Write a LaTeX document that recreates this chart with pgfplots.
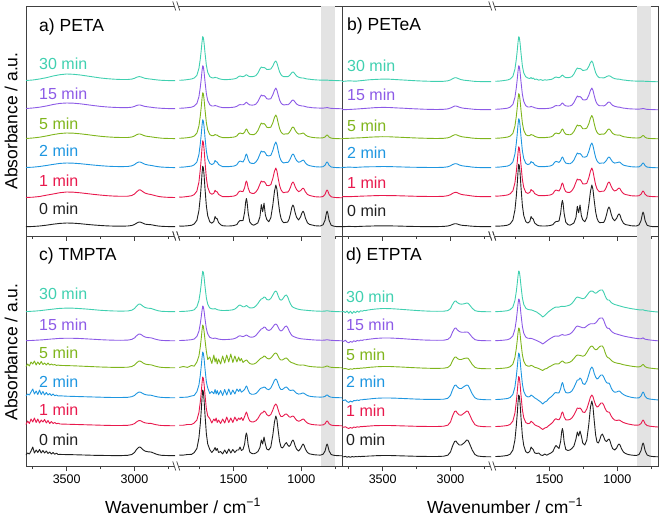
\documentclass[border=0pt]{standalone}
\usepackage{pgfplots}
\pgfplotsset{compat=1.18}
\usepackage{pgfplotstable}
\usepackage{fontspec}
\setmainfont{Liberation Sans}
\setsansfont{Liberation Sans}

\definecolor{c0}{HTML}{202020}
\definecolor{c1}{HTML}{E8194D}
\definecolor{c2}{HTML}{1E96E0}
\definecolor{c5}{HTML}{7FB51C}
\definecolor{c15}{HTML}{8C5AE6}
\definecolor{c30}{HTML}{40D0B0}
\definecolor{frame}{HTML}{404040}

% ---------------- Panel a (PETA) ----------------
\pgfplotstableread{
w t0 t1 t2 t5 t15 t30
3800 0.3 0.5 0.5 0.5 0.5 0.5
3750 0.5 0.8 0.8 1 1 1
3700 1 1.5 1.5 1.8 1.8 2
3650 1.8 2.8 2.5 3 3 3.3
3600 2.8 4 3.6 4.4 4.5 5
3550 3.6 5.3 4.6 5.5 5.6 6.3
3500 4 6 5 6 6 7
3450 3.8 5.8 4.8 5.8 5.8 6.7
3400 3.3 5.2 4.3 5.2 5.2 6
3350 2.6 4.4 3.6 4.4 4.3 5
3300 2 3.6 2.9 3.5 3.4 4
3250 1.5 2.9 2.3 2.7 2.6 3
3200 1.1 2.3 1.8 2.1 2 2.3
3150 0.9 1.9 1.5 1.7 1.6 1.8
3100 0.8 1.7 1.4 1.5 1.4 1.5
3050 1 1.8 1.5 1.5 1.4 1.5
3020 1.5 2.5 2.2 2 1.8 1.9
3000 2.5 4 3.4 3 2.6 2.7
2985 3.8 6 5 4.2 3.5 3.7
2970 4.8 7.8 5.9 5 4 4.3
2960 5 8.2 6 5 4 4.3
2950 4.6 7.5 5.6 4.6 3.7 4
2935 3.6 6 4.5 3.7 3 3.2
2920 2.8 4.8 3.6 3 2.5 2.6
2900 2.5 4 3 2.5 2.1 2.2
2880 2.3 3.5 2.6 2.2 1.8 1.9
2870 2.1 3.2 2.4 2 1.6 1.7
2860 1.8 2.8 2.1 1.8 1.4 1.5
2840 1.3 2.1 1.6 1.4 1.1 1.2
2820 0.9 1.5 1.2 1.1 0.9 0.9
2800 0.7 1.1 0.9 0.8 0.7 0.7
2770 0.5 0.8 0.7 0.6 0.5 0.5
2740 0.4 0.6 0.5 0.5 0.4 0.4
2700 0.3 0.5 0.4 0.4 0.3 0.3
}\aL
\pgfplotstableread{
w t0 t1 t2 t5 t15 t30
1900 .8 .8 .7 .7 .7 .7
1870 .9 1 .9 .9 .9 .9
1840 1.2 1.5 1.4 1.3 1.3 1.4
1810 1.7 2.1 1.9 1.9 1.8 2
1790 3 3.4 3.1 3 2.9 3
1770 6.7 6.9 6 5.8 5.5 5.7
1755 16.4 15.9 13.5 13 12.2 12.6
1745 29.6 28.2 23.9 22.9 21.5 22
1738 41.6 39.4 33.3 31.9 29.9 30.6
1732 53.6 50.6 42.7 40.9 38.3 39.2
1727 60.8 57.3 48.3 46.3 43.3 44.4
1722 59 55.6 46.9 45 42 43.1
1717 52 48.9 41.3 39.6 37 38
1710 38 36 30.4 29.2 27.3 28.1
1700 20.8 19.8 16.8 16.2 15.2 15.6
1690 11.2 10.8 9.3 9 8.4 8.7
1675 5.2 5.2 4.6 4.5 4.2 4.4
1660 3.8 3.75 3.45 3.2 3 3.2
1645 5.6 4.75 4.45 3.5 3 3.1
1636 10.5 7.7 7.5 4.6 3.6 3.7
1628 8.6 6.4 6.2 4 3.1 3.3
1620 8.2 6.15 5.95 3.85 3 3.2
1610 4.3 3.6 3.5 2.7 2.3 2.4
1595 2.3 2.4 2.3 2 1.8 1.9
1580 1.3 1.4 1.4 1.4 1.4 1.5
1565 1.1 1.3 1.3 1.3 1.3 1.4
1550 1 1.3 1.3 1.3 1.3 1.4
1535 1 1.4 1.4 1.4 1.4 1.5
1520 1.1 1.6 1.6 1.6 1.5 1.7
1505 1.3 1.8 1.8 1.8 1.7 1.9
1490 1.75 2.2 2.2 2.1 2 2.3
1475 2.5 3.3 3.3 3.1 2.7 3
1462 5.25 6 6 5.3 3.9 4.5
1452 6.5 7 7 6 4.4 5
1442 6.35 6.65 6.5 5.6 4.2 4.6
1430 6.5 6.4 6 5.2 4.2 4.3
1418 14.7 10.3 8.9 6.9 5 5
1410 25.3 15.4 12.8 9.3 6.3 5.9
1405 28.5 17 14 10 6.7 6.2
1400 25.3 15.4 12.8 9.3 6.3 5.9
1392 14.2 10.1 8.7 6.8 5.1 5
1380 5 5.7 5.3 4.8 4.1 4.4
1365 2.6 4.7 4.6 4.4 3.9 4.3
1350 1.8 4.5 4.5 4.3 4 4.6
1335 2.9 6 6 5.6 4.9 5.4
1320 4.2 9 9 8.5 7.4 8
1305 10.2 14 14 13.2 11.5 12
1295 22.4 17 17 16 14 14
1285 15.3 16 16 15 13.1 13.3
1275 23.8 16.5 16.5 15.5 13.5 13.5
1265 12 15 15 14.1 12.3 12.8
1255 7.6 12.5 12.5 11.8 10.3 11.5
1240 5.2 12.4 12.1 11.4 9.9 11.6
1225 9.2 13.3 12.6 11.8 10.3 12
1210 22 19.5 17.5 16.2 14.2 15
1198 35.6 26.7 23.3 21.6 18.7 18.6
1188 42 30 26 24 20.9 20
1180 38 27.1 23.5 21.8 18.9 18.1
1170 26 19.4 17 15.7 13.7 13.4
1160 15.2 12.4 11.1 10.3 9 9
1150 8.8 8.3 7.6 7.1 6.1 6.4
1140 5.6 6.2 5.8 5.5 4.7 5
1130 4.2 5.2 5 4.7 4.1 4.3
1120 4.6 5.7 5.4 5 4.2 4.4
1110 4.7 5.9 5.6 5.2 4.4 4.4
1100 5 5.8 5.5 5 4.2 4.3
1090 8 7.6 7 6.3 5 5.1
1080 13.2 10.7 9.6 8.4 6.5 6.6
1070 19.6 14.6 12.8 11 8.3 8.4
1062 22 16 14 12 9 9.1
1055 20.2 14.9 13.1 11.3 8.5 8.5
1045 14 11.2 10 8.7 6.7 6.7
1035 9.7 8.4 7.5 6.6 5 5
1020 7 6.3 5.7 4.9 3.8 3.8
1005 10.3 7.4 6.4 5.2 3.3 3.2
995 14.3 9 7.3 5.6 3 3
987 15.8 9.9 7.9 6 3 3
980 14.2 9 7.3 5.5 2.8 2.8
970 9 6.2 5.2 4.1 2.4 2.4
955 4.3 3.6 3.2 2.8 1.9 2
940 2.6 2.6 2.4 2.2 1.7 1.8
920 2 1.9 1.8 1.6 1.3 1.4
900 1.3 1.3 1.3 1.3 1.1 1.2
880 1.1 1.1 1.1 1.1 1 1
860 1 1 1 1 .9 .9
840 2.2 1.5 1.3 1.2 .9 .8
825 6.8 3.6 2.8 2 1.1 .8
815 14 7.1 5.4 3.6 1.3 .8
810 15.8 8 6 4 1.4 .9
805 14 7.1 5.4 3.6 1.3 .8
795 6.6 3.5 2.7 1.9 1 .7
780 1.8 1.2 1 .9 .6 .6
760 .8 .65 .6 .5 .5 .5
740 .4 .4 .4 .4 .4 .4
720 .3 .3 .3 .3 .3 .3
700 .3 .2 .2 .2 .2 .2
}\aR

% ---------------- Panel b (PETeA) ----------------
\pgfplotstableread{
w t0 t1 t2 t5 t15 t30
3800 0.3 0.3 0.5 0.4 0.3 0.5
3750 0.6 0.3 0.9 0.7 0.5 1.2
3700 0.4 0.6 0.6 1.0 0.9 0.8
3650 0.7 0.9 1.0 1.3 1.4 1.5
3600 0.9 1.1 1.2 1.8 1.9 2.2
3550 1.1 1.4 1.3 2.1 2.4 2.6
3500 1.2 1.5 1.5 2.3 2.6 2.9
3450 1.1 1.4 1.4 2.2 2.5 2.8
3400 1.0 1.3 1.2 1.9 2.1 2.4
3350 0.8 1.1 1.0 1.6 1.8 2.0
3300 0.6 0.9 0.8 1.3 1.4 1.6
3250 0.5 0.7 0.7 1.0 1.1 1.2
3200 0.4 0.6 0.6 0.8 0.8 0.9
3150 0.4 0.5 0.5 0.6 0.6 0.7
3100 0.4 0.5 0.5 0.5 0.5 0.6
3050 0.6 0.7 0.7 0.7 0.7 0.7
3020 1.0 1.3 1.2 1.2 1.1 1.2
3000 1.7 2.3 2.2 2.1 2.0 2.1
2985 2.6 3.6 3.4 3.3 3.0 3.2
2970 3.2 4.5 4.2 4.2 3.9 4.2
2960 3.3 4.7 4.3 4.3 4.0 4.3
2950 3.0 4.3 4.0 3.9 3.6 3.9
2935 2.3 3.3 3.0 3.0 2.8 3.0
2920 1.8 2.6 2.4 2.4 2.2 2.3
2900 1.5 2.1 1.9 1.9 1.7 1.8
2880 1.3 1.8 1.6 1.6 1.5 1.5
2870 1.2 1.6 1.5 1.5 1.3 1.4
2860 1.0 1.4 1.3 1.3 1.2 1.2
2840 0.8 1.0 0.9 0.9 0.9 0.9
2820 0.6 0.7 0.7 0.7 0.6 0.6
2800 0.5 0.5 0.5 0.5 0.5 0.5
2770 0.4 0.4 0.4 0.4 0.4 0.4
2740 0.3 0.3 0.3 0.3 0.3 0.3
2700 0.3 0.3 0.3 0.3 0.3 0.3
}\bL
\pgfplotstableread{
w t0 t1 t2 t5 t15 t30
1900 .8 .8 .7 .7 .7 .7
1870 .9 1 .9 .9 .9 .9
1840 1.2 1.4 1.4 1.3 1.3 1.4
1810 1.8 2 1.9 1.9 1.8 2
1790 3.1 3.2 3.1 2.9 2.9 3
1770 6.9 6.2 6.1 5.7 5.6 5.7
1755 16.9 14.1 13.8 12.8 12.5 12.8
1745 30.5 24.9 24.4 22.5 22 22.4
1738 43 34.7 34 31.3 30.6 31.2
1732 55.4 44.4 43.6 40.1 39.2 40
1727 62.8 50.3 49.3 45.4 44.3 45.3
1722 61 48.8 47.9 44.1 43 44
1717 53.7 42.9 42.1 38.8 37.9 38.8
1710 39.3 31.7 31 28.6 28 28.7
1700 21.5 17.5 17.1 15.9 15.6 16
1690 11.6 9.6 9.5 8.8 8.6 9.2
1675 5.4 4.7 4.7 4.4 4.3 5.2
1660 3.9 3.6 3.4 3.2 3 4
1645 5.6 4.6 4.2 3.5 3 3.5
1636 10.5 7.5 6.5 4.6 3.6 4.5
1628 8.6 6.2 5.5 4 3.1 3.2
1620 8 6 5.3 3.8 3 4
1610 4.2 3.5 3.2 2.7 2.3 2.6
1595 2.3 2.3 2.2 2 1.8 2.9
1580 1.3 1.4 1.4 1.4 1.4 1.8
1565 1.1 1.3 1.3 1.3 1.3 2.4
1550 1 1.3 1.3 1.3 1.3 1.6
1535 1 1.4 1.4 1.4 1.4 2.2
1520 1.1 1.6 1.6 1.6 1.5 1.9
1505 1.3 1.8 1.8 1.8 1.7 2.3
1490 1.7 2.2 2.2 2.1 2 2.5
1475 2.3 3.3 3.3 3.1 2.7 3.2
1462 4.5 6 5.8 5.3 3.9 4.5
1452 5.5 7 6.6 6 4.4 5
1442 5.6 6.5 6.2 5.6 4.2 4.6
1430 6 6 5.6 5.2 4.2 4.3
1418 13.8 8.8 7.5 6.9 5 5.2
1410 23.6 12.8 10.2 9.3 6.5 6.4
1405 26.6 14 11 10 7 6.9
1400 23.6 12.8 10.2 9.3 6.5 6.4
1392 13.3 8.7 7.3 6.8 5.1 5.2
1380 4.8 5.3 4.9 4.8 4.1 4.4
1365 2.5 4.6 4.4 4.4 3.9 4.3
1350 1.8 4.6 4.2 4.2 4 4.6
1335 2.8 6.3 5.4 5 4.9 5.4
1320 4 9.5 8 7.5 7.4 8
1305 9.5 14.8 12.3 11.6 11.5 12
1295 20.7 18 15 14 14 14
1285 14.2 17 14.1 13.1 13.1 13.3
1275 22 17.5 14.5 13.6 13.5 13.5
1265 11.2 15.9 13.2 12.3 12.3 12.8
1255 7.2 13.2 11 10.3 10.3 11.5
1240 5.2 13 10.9 10.2 10 11.8
1225 9.2 13.7 11.5 10.9 10.6 12.3
1210 22 19.3 16.6 15.3 14.8 15.6
1198 35.6 26 22.6 20.9 19.6 19.5
1188 42 29 25 23.5 21.9 21
1180 38 26.2 22.6 21.3 19.8 19
1170 26 18.9 16.4 15.1 14.3 14
1160 15.2 12.2 10.6 9.8 9.3 9.4
1150 8.8 8.2 7.2 6.7 6.3 6.6
1140 5.6 6.2 5.4 5.2 4.8 5
1130 4.2 5.2 4.6 4.5 4.2 4.2
1120 4.5 5.6 4.9 4.8 4.2 4.2
1110 4.5 5.8 5 5 4.3 4.2
1100 4.7 5.7 4.9 4.7 4.1 4.1
1090 7.4 7.3 6 5.7 4.7 4.6
1080 12.1 10.2 7.7 7.3 6 5.4
1070 17.8 13.8 10.1 9.3 7.5 6
1062 20 15 11 10 8 6.2
1055 18.4 14 10.3 9.5 7.6 6
1045 12.8 10.6 8.1 7.5 6.1 5.2
1035 8.7 7.9 6.2 5.7 4.7 4.3
1020 6.2 6 4.9 4.4 3.7 3.4
1005 8.7 6.9 5.3 4 3.2 3
995 11.9 8.2 5.6 3.9 2.9 2.8
987 13.1 9 6 4 2.9 2.8
980 11.8 8.2 5.7 3.8 2.7 2.7
970 7.6 5.8 4.3 3.1 2.3 2.3
955 3.8 3.4 2.9 2.4 1.9 2
940 2.4 2.5 2.3 2 1.7 1.8
920 1.9 1.9 1.8 1.6 1.3 1.4
900 1.3 1.3 1.3 1.3 1.1 1.2
880 1.1 1.1 1.1 1.1 1 1
860 1 1 1 1 .9 .9
840 2.1 1.3 1.2 1.1 .9 .8
825 6.4 2.8 2.4 1.8 1.1 .8
815 13.2 5.3 4.5 3.2 1.4 .8
810 14.9 6 5 3.5 1.5 .9
805 13.2 5.3 4.5 3.2 1.4 .8
795 6.3 2.7 2.3 1.7 1 .7
780 1.7 1 .9 .8 .6 .6
760 .8 .6 .6 .5 .5 .5
740 .4 .4 .4 .4 .4 .4
720 .3 .3 .3 .3 .3 .3
700 .3 .2 .2 .2 .2 .2
}\bR

% ---------------- Panel c (TMPTA) ----------------
\pgfplotstableread{
w t0 t1 t2 t5 t15 t30
3800 1 1.5 2 1.5 0.3 0.4
3788 3 5 4 4 0.4 0.5
3775 2 2.5 3 2 0.5 0.6
3763 5 7 6 6 0.5 0.7
3750 9 4 9 4 0.6 0.8
3738 3 8 4 7 0.7 0.9
3725 6 3.5 7 3 0.8 1
3713 3.5 7 3.5 6 0.9 1.2
3700 6.5 3 8 3.5 1 1.3
3688 3 6 3.5 6.5 1.1 1.5
3675 5.5 4 6.5 3.5 1.2 1.7
3663 3 6.5 3 5 1.4 1.9
3650 5 3 5.5 3 1.5 2.1
3638 2.5 5.5 3 5 1.7 2.3
3625 4 2.5 4.5 3 1.8 2.5
3613 2 4.5 2.5 4 2 2.7
3600 3.5 2.5 4 3 2.1 2.9
3588 1.8 3.5 2.2 3.5 2.2 3.1
3575 2.8 2.2 3 2.5 2.4 3.3
3563 1.5 2.8 2 3 2.5 3.5
3550 1.6 2 2.2 2.6 2.6 3.6
3500 1.4 1.8 1.8 2.4 2.8 3.9
3450 1.3 1.6 1.6 2.2 2.7 3.8
3400 1.1 1.4 1.4 1.9 2.5 3.4
3350 0.9 1.2 1.2 1.6 2.1 2.9
3300 0.7 1 1 1.3 1.7 2.3
3250 0.6 0.8 0.8 1 1.3 1.7
3200 0.5 0.6 0.6 0.8 1 1.3
3150 0.4 0.5 0.5 0.6 0.8 1
3100 0.4 0.5 0.5 0.6 0.7 0.9
3050 0.7 0.7 0.7 0.8 0.9 1
3020 1.5 1.3 1.3 1.5 1.6 1.8
3000 3.5 2.4 2.6 3 3.1 3.5
2985 6.5 4.1 4.4 5.1 5.2 5.9
2970 8.6 5.3 5.8 6.7 6.8 7.7
2960 9 5.5 6 7 7 8
2950 8 4.9 5.4 6.3 6.3 7.2
2935 6 3.8 4.2 4.9 4.9 5.5
2920 4.8 3.1 3.4 3.9 3.9 4.4
2900 4.2 2.7 2.9 3.4 3.4 3.8
2880 4 2.6 2.8 3.2 3.2 3.6
2870 3.6 2.3 2.5 2.9 2.9 3.2
2860 3 1.9 2.1 2.4 2.4 2.7
2840 1.9 1.3 1.4 1.6 1.6 1.8
2820 1.1 0.8 0.9 1 1 1.1
2800 0.7 0.5 0.6 0.6 0.6 0.7
2770 0.5 0.4 0.4 0.4 0.4 0.5
2740 0.4 0.3 0.3 0.3 0.3 0.4
2700 0.3 0.3 0.3 0.3 0.3 0.3
}\cL
\pgfplotstableread{
w t0 t1 t2 t5 t15 t30
1900 .8 .7 .7 .5 .5 .5
1870 .9 .8 .7 1.5 .6 .6
1840 1.5 1.5 .9 .6 .9 .9
1810 1.6 1.5 2 2.5 1.3 1.4
1790 3.4 3 2.6 1.8 2 2.2
1770 7.5 6 6.3 6 4.5 5.2
1755 18 13.5 13 12 9.8 11.4
1745 32 24 22.5 21 17.2 20
1738 45 33.5 31.5 29.5 24 28
1732 58 43 40.5 38 30.5 35.7
1727 66 49 46 43 35 40.7
1722 64 47.5 44.5 41.5 34 39.6
1717 56 42 39.5 36.5 30 34.8
1710 41 31 29 28 22 25.5
1700 22 17 16 16.5 12.2 14
1690 12 10 10 8.5 7 7.8
1675 6.5 7.5 4.5 11 3.7 4
1660 3.5 3 6.5 4.5 2.8 3.2
1645 6 7 4.2 13 2.6 3
1636 8.5 5 8.5 6 3 3.4
1628 5.5 8 4 10 2.6 2.8
1620 7.5 3.5 7.5 4 2.3 2.4
1610 3.5 6 3.2 9 1.9 2
1595 4.5 2.5 7.5 4 1.6 1.7
1580 2 7 2.5 12 1.4 1.5
1565 6 3 8.5 5 1.4 1.5
1550 2.5 9 3 13 1.5 1.6
1535 7 3.5 9 6 1.6 1.7
1520 3 8 3.5 14 1.8 1.9
1505 6.5 3.5 8 5.5 2 2.2
1490 3.5 9 4 12 2.6 3
1475 6 5 9 6 3.5 4.5
1462 6 8 6.5 11 4.8 6.5
1452 9 6.5 9 7 5.2 7
1442 5.5 8.5 5.8 9.5 4.8 6.2
1430 6.5 5.5 7 5.5 4.4 5.2
1418 12 9.5 8.5 7 5 5.3
1410 20.5 12.5 11 7.6 5.7 6.1
1405 23 14 12 8 6 6.5
1400 20.5 12.5 11 7.6 5.7 6.1
1392 11.3 8.5 7.8 6 4.9 5.1
1380 4 5 4.6 4.5 4 4.2
1365 2.5 4 3.7 3.8 3.8 4
1350 2.2 4.2 3.8 4 4.2 4.5
1335 3 5.2 4.5 5 5.5 6
1320 4.5 7.5 6.5 7 8 8.5
1305 8.5 11 9 9 10.5 11.5
1295 16 13 10 10 12 13
1285 12 13.2 10.2 10.5 12.5 13.5
1275 19 15 11 12 14 15
1265 12 14 10.5 11.5 13.5 14.5
1255 7 11.5 9 10 11.5 12.5
1240 6 10 8.3 9 10.5 12
1225 9 11.5 10 10 11.5 13.5
1210 21 16 14 12.3 14 17
1198 34 20.5 17.8 14.5 16.3 20
1188 40 22 19 15 17 21
1180 36.5 20.5 17.8 14.2 16.2 19.8
1170 25 16 14 11.5 13.5 16
1160 14.5 11.8 10.3 9 11 12.8
1150 9 9.5 8.5 8 10 11.8
1140 8 9.5 8.5 8 10.8 12.5
1130 9.5 10.5 9.5 8.8 12.5 14.5
1120 12 11.7 10.6 9.7 14.4 16.4
1110 13.5 12 11 10 15 17
1100 11 10.8 9.8 8.9 13.3 15
1090 9.5 9.2 8.1 7.2 10.2 11.2
1080 11 8.8 7.5 6 7.6 8.2
1070 14.5 9.6 7.8 5.3 5.6 5.8
1062 16 10 8 5 4.8 4.8
1055 14.5 9.4 7.5 4.7 4.4 4.4
1045 10 7.5 6.1 4 3.8 3.8
1035 7 5.8 4.8 3.5 3.3 3.3
1020 5 4.7 3.9 3 2.7 2.7
1005 7.5 5.5 4.2 2.9 2.3 2.3
995 10.5 6.5 4.8 3 2.1 2.1
987 12 7 5 3 2 2
980 10.8 6.5 4.7 2.9 1.9 1.9
970 7 4.8 3.7 2.5 1.8 1.8
955 3.5 3 2.5 2 1.6 1.6
940 2.2 2.1 1.8 1.6 1.4 1.4
920 1.6 1.5 1.4 1.3 1.2 1.2
900 1.2 1.2 1.1 1.1 1 1
880 1 1 1 .9 .9 .9
860 .9 .9 .9 .8 .8 .8
840 1.7 1.1 1 .8 .8 .8
825 5 2.2 1.6 1.2 .9 .9
815 10.5 4.5 2.8 1.9 1.2 1.2
810 12 5 3 2 1.3 1.3
805 10.5 4.5 2.8 1.9 1.2 1.2
795 5 2.2 1.5 1.1 .9 .9
780 1.5 .9 .8 .7 .7 .7
760 .7 .5 .5 .5 .5 .5
740 .4 .4 .4 .4 .4 .4
720 .3 .3 .3 .3 .3 .3
700 .3 .2 .2 .2 .2 .2
}\cR

% ---------------- Panel d (ETPTA) ----------------
\pgfplotstableread{
w t0 t1 t2 t5 t15 t30
3800 0.3 0.2 0.3 0.3 0.2 0.2
3788 0.2 -0.3 -0.5 0.2 -0.4 0.5
3775 0.6 0.3 0.2 0.5 0.8 -0.5
3763 -0.2 -0.8 -1.5 0 -1 1
3750 0.4 -1.5 -2.5 -0.5 -1.8 -1.2
3738 -0.3 -0.5 -1 0.3 -0.5 0.8
3725 0.5 -1.2 -2 -0.3 -1.2 -1.5
3713 0 0 -0.5 0.5 0.2 0.6
3700 0.5 -0.5 -0.8 0.2 -0.6 -0.8
3688 0.2 0.3 0 0.7 0.6 1
3675 0.6 -0.2 -0.5 0.5 0 -0.3
3663 0.4 0.5 0.3 0.9 0.9 1.2
3650 0.7 0.3 0.2 0.9 0.6 0.8
3638 0.6 0.7 0.6 1.2 1.3 1.6
3625 0.8 0.6 0.6 1.2 1.2 1.4
3613 0.8 0.9 0.9 1.5 1.6 1.9
3600 1 0.9 1 1.6 1.8 2.1
3588 1 1.1 1.2 1.8 2 2.4
3575 1.1 1.2 1.4 1.9 2.2 2.6
3563 1.2 1.3 1.5 2 2.4 2.8
3550 1.3 1.4 1.7 2.2 2.6 3
3500 1.5 1.5 2 2.5 3 3.5
3450 1.5 1.5 2 2.5 3 3.4
3400 1.3 1.3 1.8 2.2 2.7 3
3350 1.1 1.1 1.5 1.9 2.3 2.5
3300 0.9 0.9 1.2 1.5 1.8 2
3250 0.7 0.7 0.9 1.2 1.4 1.5
3200 0.6 0.6 0.7 0.9 1 1.1
3150 0.5 0.5 0.6 0.7 0.8 0.8
3100 0.5 0.5 0.6 0.6 0.7 0.7
3050 0.8 0.8 0.8 0.8 0.8 0.8
3020 1.8 1.8 1.7 1.5 1.6 1.4
3000 5 5 4.7 3.8 4 3.5
2985 11 11 10.3 8.3 8.9 7.6
2970 15.5 15.5 14.5 11.7 12.6 10.7
2960 16 16 15 12 13 11
2950 14 14 13.2 10.6 11.2 9.5
2935 12 12 11.5 9.5 9.5 8.2
2920 12 11.8 11.5 9.5 8.8 7.8
2900 14 13.8 13.5 10.5 8.8 8.2
2880 17 16 15 11 9 9
2870 16.5 15.5 14.5 10.7 8.7 8.7
2860 13.5 12.7 11.9 8.8 7.2 7.2
2840 7 6.6 6.2 4.6 3.8 3.8
2820 2.5 2.4 2.2 1.7 1.4 1.4
2800 1 1 0.9 0.8 0.7 0.7
2770 0.5 0.5 0.5 0.4 0.4 0.4
2740 0.3 0.3 0.3 0.3 0.3 0.3
2700 0.2 0.2 0.2 0.2 0.2 0.2
}\dL
\pgfplotstableread{
w t0 t1 t2 t5 t15 t30
1900 .5 .5 .5 .3 .3 .3
1870 .6 .6 .6 .5 .5 .5
1840 1 1 1 .8 .8 .8
1810 1.6 1.5 1.5 1.3 1.3 1.3
1790 2.8 2.6 2.5 2.3 2.4 2.3
1770 7 6 5.6 5 5.2 5
1755 17 14 13 11.5 11.8 11.5
1745 31 25 23.2 20.3 20.8 20.3
1738 43 35 32.5 28.5 29.2 28.4
1732 55 44.5 41.5 36.5 37.3 36.3
1727 62 50.5 47 41 42 41
1722 60.5 49 45.5 40 41 40
1717 53.5 43 40 35 36 35
1710 39 31.5 29.3 25.8 26.4 25.8
1700 21 17.2 16 14.2 14.5 14.1
1690 11.5 9.3 8.7 7.8 7.9 7.7
1675 5.3 4.5 4.3 3.9 3.9 3.8
1660 4 3.3 3.1 2.9 2.8 2.6
1645 5.8 3.8 3.4 2.9 2.6 2.2
1636 10 5.8 5 3.7 2.6 2.2
1628 8.5 4.8 4.2 3.2 2.3 1.8
1620 7.5 4 3.6 2.7 1.9 1.4
1610 4.2 2.3 2.2 1.8 1.3 .8
1595 3.5 1.2 1 1.2 .5 0
1580 4 .5 -.5 .5 -.5 -1.5
1565 2 -1 -2 -.5 -1.5 -3
1550 1.5 -2.5 -4 -1.5 -3 -5
1535 3 -1 -2 0 -1.5 -3.5
1520 1.8 -.3 -1 .5 0 -1.5
1505 3 1.5 1.5 2 1.5 .5
1490 4 3 3 3 2.8 2
1475 5.5 5 4.8 4.2 4 3.5
1462 9.5 7.5 7 5 4.8 4.5
1452 11.5 8.3 7.5 5.2 5 5
1442 10 7.5 7 5 4.8 4.8
1430 8.5 7.2 7.2 5.3 4.9 4.9
1418 15.5 10 11.2 6.8 5.9 5.5
1410 25.5 14 16 7.7 6.2 5.6
1405 28.5 15 17.5 8 6.4 5.6
1400 25.5 14 16 7.7 6.2 5.6
1392 15 10 11 6.5 5.8 5.5
1380 7.5 7.2 7.5 5.9 5.8 5.8
1365 6.5 7 7 6.2 6.3 6.3
1350 7 7.5 7.5 6.8 7 7
1335 8.5 9 9 8.2 8.5 8.5
1320 11 12 12.5 10.5 11 11
1305 18 16 17 13 14 14
1295 25 19 20 14 15 15
1285 21 18.5 20 13.8 14.6 14.6
1275 26 19 22 13.6 14.2 14.2
1265 21 17.5 20.5 13.2 13.7 13.7
1255 14 15 16.5 12.8 13.2 13.2
1240 12 14.5 15.5 13.5 13.4 14
1225 17 18 19 16.5 15 16.5
1210 33 24.5 25.5 20 16.5 19.3
1198 50 30 31 22.3 17.2 20.8
1188 56 32 33 23 17.3 21
1180 51 30.5 31.5 22.3 17.2 20.7
1170 36 26 26.5 20.3 17.3 19.4
1160 22 22 23 19.2 18.2 18.8
1150 15 20 21 19.6 19.6 19.4
1140 14 20.5 21.8 21 21.5 20.7
1130 17 22.5 23.8 22.5 22.8 21.7
1120 21.5 24 25 23 23 22
1110 23 24 25 23 23 22
1100 20 22 23 20.8 20.7 19.7
1090 16.5 18.5 19.8 16.5 16.8 16.2
1080 15.5 16 17.5 13 13.8 13.3
1070 17 15 16.8 11.3 12.6 12
1062 18 15 17 11 12.8 12
1055 16.5 13.8 15.5 10.2 11.7 11.2
1045 12 11 12 8.7 10 9.5
1035 8.5 8.8 9.5 7.6 8.8 8.5
1020 7 7 7.8 6.5 7.5 7.5
1005 9 6.5 8 6 7 7
995 12 6.8 8.7 5.6 6.5 6.5
987 13 7 9 5.5 6.2 6.2
980 12 6.6 8.5 5.3 6 6
970 8.5 5.6 7 4.9 5.6 5.6
955 5 4.5 5.5 4.3 5 5
940 3.5 3.8 4.4 3.9 4.5 4.5
920 2.5 3 3.5 3.4 4 4
900 2 2.5 2.8 2.9 3.5 3.4
880 1.7 2 2.3 2.5 3 3
860 1.5 1.8 2 2.2 2.6 2.6
840 2.5 2 2.2 2.1 2.3 2.2
825 6.5 3.5 4 2.8 2.3 2
815 12.5 6.2 7.2 4.1 2.8 2.2
810 14 7 8 4.5 3.2 2.3
805 12.5 6.2 7.2 4 2.6 1.9
795 6.3 3.2 3.6 2.3 1.8 1.5
780 2 1.4 1.6 1.4 1.4 1.2
760 .9 .8 .9 .9 1 .8
740 .5 .5 .6 .6 .7 .5
720 .3 .2 .3 .3 .4 .2
700 .2 0 .1 .1 .2 0
}\dR

% #1 colour, #2 column, #3 offset, #4 left table, #5 right table
\newcommand{\spec}[5]{%
  \addplot[#1] table[x expr=3800-\thisrow{w}, y expr=\thisrow{#2}+#3] {#4};
  \addplot[#1] table[x expr=3030-\thisrow{w}, y expr=\thisrow{#2}+#3] {#5};
}

\pgfplotsset{
  panel/.style={
    scale only axis, width=316pt, height=230pt,
    xmin=0, xmax=2330, ymin=0, ymax=230,
    clip=false,
    axis line style={draw=frame, line width=0.8pt},
    ytick=\empty,
    xtick={300,800,1530,2030},
    xticklabels={3500,3000,1500,1000},
    minor xtick={50,550,1050,1280,1780,2280},
    xtick pos=bottom, tick align=outside,
    major tick length=5pt, minor tick length=3pt,
    every tick/.style={draw=frame, line width=0.8pt},
    tick label style={font=\fontsize{12.5}{12.5}\selectfont, text=black},
    every axis plot/.append style={line width=0.9pt, no markers, line join=round},
  },
  toprow/.style={xticklabels={}},
}

\newcommand{\band}{\fill[black!11] (axis cs:2175,0) rectangle (axis cs:2278,230);}
\newcommand{\lab}{\fontsize{16}{16}\selectfont}
\newcommand{\ttl}{\fontsize{17.5}{17.5}\selectfont}

\begin{document}
\begin{tikzpicture}
\path[use as bounding box] (0pt,0pt) rectangle (660pt,-518pt);

% ---- a ----
\begin{axis}[panel, toprow, at={(26pt,-6pt)}, anchor=north west]
\band
\spec{c0}{t0}{9}{\aL}{\aR}
\spec{c1}{t1}{38}{\aL}{\aR}
\spec{c2}{t2}{68}{\aL}{\aR}
\spec{c5}{t5}{97}{\aL}{\aR}
\spec{c15}{t15}{127}{\aL}{\aR}
\spec{c30}{t30}{155}{\aL}{\aR}
\coordinate (aT) at (axis cs:1115,230);
\coordinate (aB) at (axis cs:1115,0);
\end{axis}

% ---- b ----
\begin{axis}[panel, toprow, at={(342pt,-6pt)}, anchor=north west]
\band
\spec{c0}{t0}{9}{\bL}{\bR}
\spec{c1}{t1}{39}{\bL}{\bR}
\spec{c2}{t2}{68}{\bL}{\bR}
\spec{c5}{t5}{97}{\bL}{\bR}
\spec{c15}{t15}{126}{\bL}{\bR}
\spec{c30}{t30}{154}{\bL}{\bR}
\coordinate (bT) at (axis cs:1115,230);
\coordinate (bB) at (axis cs:1115,0);
\end{axis}

% ---- c ----
\begin{axis}[panel, at={(26pt,-236pt)}, anchor=north west]
\band
\spec{c0}{t0}{10}{\cL}{\cR}
\spec{c1}{t1}{40}{\cL}{\cR}
\spec{c2}{t2}{68}{\cL}{\cR}
\spec{c5}{t5}{98}{\cL}{\cR}
\spec{c15}{t15}{125}{\cL}{\cR}
\spec{c30}{t30}{154}{\cL}{\cR}
\coordinate (cT) at (axis cs:1115,230);
\coordinate (cB) at (axis cs:1115,0);
\end{axis}

% ---- d ----
\begin{axis}[panel, at={(342pt,-236pt)}, anchor=north west]
\band
\spec{c0}{t0}{9}{\dL}{\dR}
\spec{c1}{t1}{39}{\dL}{\dR}
\spec{c2}{t2}{66}{\dL}{\dR}
\spec{c5}{t5}{97}{\dL}{\dR}
\spec{c15}{t15}{125}{\dL}{\dR}
\spec{c30}{t30}{154}{\dL}{\dR}
\coordinate (dT) at (axis cs:1115,230);
\coordinate (dB) at (axis cs:1115,0);
\end{axis}

% axis-break marks
\foreach \p in {aT,aB,bT,bB,cT,cB,dT,dB}{
  \fill[white] ([shift={(-3pt,-1.2pt)}]\p) rectangle ([shift={(2pt,1.2pt)}]\p);
  \draw[frame, line width=0.7pt] ([shift={(-4.5pt,4.5pt)}]\p) -- ([shift={(-1.5pt,-4.5pt)}]\p);
  \draw[frame, line width=0.7pt] ([shift={(-0.5pt,4.5pt)}]\p) -- ([shift={(2.5pt,-4.5pt)}]\p);
}

% panel titles
\node[anchor=base west, inner sep=0pt] at (39pt,-32pt) {\ttl a) PETA};
\node[anchor=base west, inner sep=0pt] at (347pt,-31pt) {\ttl b) PETeA};
\node[anchor=base west, inner sep=0pt] at (39pt,-260pt) {\ttl c) TMPTA};
\node[anchor=base west, inner sep=0pt] at (346pt,-260pt) {\ttl d) ETPTA};

% time labels a
\node[anchor=base west, inner sep=0pt, text=c30] at (39pt,-70pt) {\lab 30 min};
\node[anchor=base west, inner sep=0pt, text=c15] at (39pt,-100pt) {\lab 15 min};
\node[anchor=base west, inner sep=0pt, text=c5] at (39pt,-130pt) {\lab 5 min};
\node[anchor=base west, inner sep=0pt, text=c2] at (39pt,-157pt) {\lab 2 min};
\node[anchor=base west, inner sep=0pt, text=c1] at (39pt,-187pt) {\lab 1 min};
\node[anchor=base west, inner sep=0pt, text=c0] at (39pt,-215pt) {\lab 0 min};
% time labels b
\node[anchor=base west, inner sep=0pt, text=c30] at (347pt,-72pt) {\lab 30 min};
\node[anchor=base west, inner sep=0pt, text=c15] at (347pt,-101pt) {\lab 15 min};
\node[anchor=base west, inner sep=0pt, text=c5] at (347pt,-132pt) {\lab 5 min};
\node[anchor=base west, inner sep=0pt, text=c2] at (347pt,-159pt) {\lab 2 min};
\node[anchor=base west, inner sep=0pt, text=c1] at (347pt,-189pt) {\lab 1 min};
\node[anchor=base west, inner sep=0pt, text=c0] at (347pt,-217pt) {\lab 0 min};
% time labels c
\node[anchor=base west, inner sep=0pt, text=c30] at (39pt,-299pt) {\lab 30 min};
\node[anchor=base west, inner sep=0pt, text=c15] at (39pt,-330pt) {\lab 15 min};
\node[anchor=base west, inner sep=0pt, text=c5] at (39pt,-358pt) {\lab 5 min};
\node[anchor=base west, inner sep=0pt, text=c2] at (39pt,-387pt) {\lab 2 min};
\node[anchor=base west, inner sep=0pt, text=c1] at (39pt,-415pt) {\lab 1 min};
\node[anchor=base west, inner sep=0pt, text=c0] at (39pt,-445pt) {\lab 0 min};
% time labels d
\node[anchor=base west, inner sep=0pt, text=c30] at (346pt,-302pt) {\lab 30 min};
\node[anchor=base west, inner sep=0pt, text=c15] at (346pt,-330pt) {\lab 15 min};
\node[anchor=base west, inner sep=0pt, text=c5] at (346pt,-360pt) {\lab 5 min};
\node[anchor=base west, inner sep=0pt, text=c2] at (346pt,-387pt) {\lab 2 min};
\node[anchor=base west, inner sep=0pt, text=c1] at (346pt,-416pt) {\lab 1 min};
\node[anchor=base west, inner sep=0pt, text=c0] at (346pt,-445pt) {\lab 0 min};

% axis titles
\node[rotate=90, anchor=center] at (11pt,-121pt) {\ttl Absorbance / a.u.};
\node[rotate=90, anchor=center] at (11pt,-352pt) {\ttl Absorbance / a.u.};
\node[anchor=base] at (183pt,-513pt) {\ttl Wavenumber / cm\textsuperscript{−1}};
\node[anchor=base] at (505pt,-513pt) {\ttl Wavenumber / cm\textsuperscript{−1}};
\end{tikzpicture}
\end{document}
